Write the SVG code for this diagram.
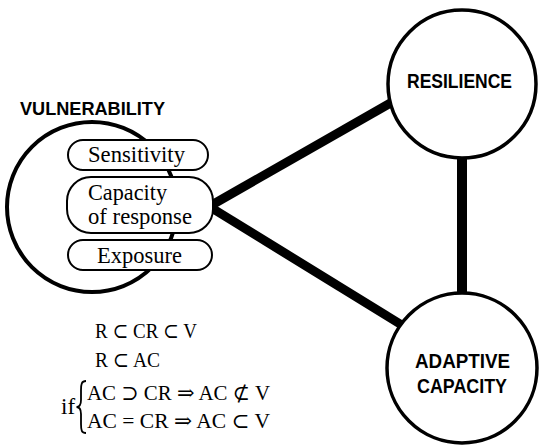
<svg xmlns="http://www.w3.org/2000/svg" width="540" height="447" viewBox="0 0 540 447">
<style>
.big{fill:#fff;stroke:#000;stroke-width:3.5}
.pill{fill:#fff;stroke:#000;stroke-width:2}
.conn{stroke:#000;stroke-width:9;stroke-linecap:butt}
.lbl{font-family:"Liberation Sans",Arial,sans-serif;font-weight:bold;fill:#000;text-anchor:middle}
.ser{font-family:"Liberation Serif","DejaVu Serif",serif;font-size:23px;fill:#000}
.math{font-family:"Liberation Serif","DejaVu Serif",serif;font-size:21px;fill:#000}
</style>
<rect width="540" height="447" fill="#fff"/>
<g id="connectors">
<line class="conn" x1="210" y1="206" x2="394" y2="101"/>
<line class="conn" x1="210" y1="207" x2="405" y2="327"/>
<line class="conn" x1="462" y1="150" x2="462" y2="300" style="stroke-width:10"/>
</g>
<g id="vulnerability">
<circle class="big" cx="92" cy="207" r="85" style="stroke-width:4"/>
<text class="lbl" x="20" y="115" textLength="145" lengthAdjust="spacingAndGlyphs" style="font-size:19px;text-anchor:start">VULNERABILITY</text>
</g>
<g id="sensitivity">
<rect class="pill" x="68" y="140" width="140" height="30" rx="15"/>
<text class="ser" x="88" y="162" textLength="97" lengthAdjust="spacingAndGlyphs">Sensitivity</text>
</g>
<g id="capacity-of-response">
<rect class="pill" x="67" y="177" width="146" height="56" rx="24"/>
<text class="ser" x="88" y="200" textLength="79" lengthAdjust="spacingAndGlyphs">Capacity</text>
<text class="ser" x="88" y="224" textLength="104" lengthAdjust="spacingAndGlyphs">of response</text>
</g>
<g id="exposure">
<rect class="pill" x="68" y="240" width="144" height="30" rx="15"/>
<text class="ser" x="97" y="263" textLength="85" lengthAdjust="spacingAndGlyphs">Exposure</text>
</g>
<g id="resilience">
<circle class="big" cx="462" cy="84" r="74"/>
<text class="lbl" x="407" y="88" textLength="105" lengthAdjust="spacingAndGlyphs" style="font-size:19.5px;text-anchor:start">RESILIENCE</text>
</g>
<g id="adaptive-capacity">
<circle class="big" cx="462" cy="368" r="75"/>
<text class="lbl" x="415" y="368" textLength="95" lengthAdjust="spacingAndGlyphs" style="font-size:20px;text-anchor:start">ADAPTIVE</text>
<text class="lbl" x="417" y="393" textLength="90" lengthAdjust="spacingAndGlyphs" style="font-size:20px;text-anchor:start">CAPACITY</text>
</g>
<g id="formulas">
<text class="math" x="95" y="338" textLength="102" lengthAdjust="spacingAndGlyphs">R ⊂ CR ⊂ V</text>
<text class="math" x="95" y="367" textLength="65" lengthAdjust="spacingAndGlyphs">R ⊂ AC</text>
<text class="math" x="61" y="414" style="font-size:23px">if</text>
<path d="M86,381 C81.5,381 81,384 81,390 L81,400 C81,405 79.5,407 76.5,407 C79.5,407 81,409 81,414 L81,424 C81,430 81.5,433 86,433" fill="none" stroke="#000" stroke-width="1.8"/>
<text class="math" x="87" y="400" textLength="183" lengthAdjust="spacingAndGlyphs">AC ⊃ CR ⇒ AC ⊄ V</text>
<text class="math" x="87" y="428" textLength="183" lengthAdjust="spacingAndGlyphs">AC = CR ⇒ AC ⊂ V</text>
</g>
</svg>
